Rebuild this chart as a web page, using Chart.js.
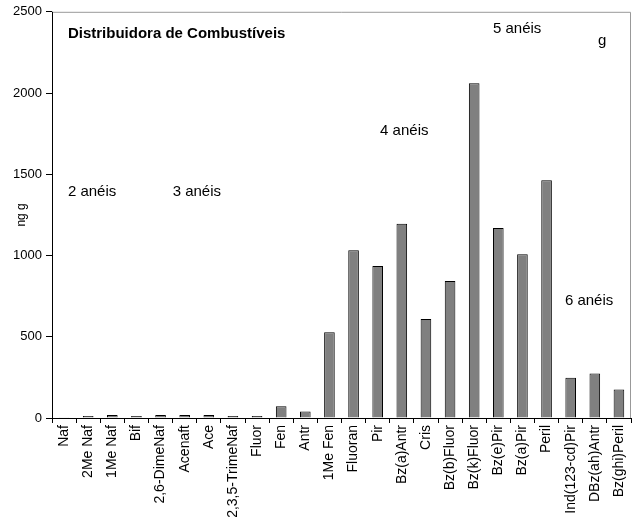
<!DOCTYPE html>
<html>
<head>
<meta charset="utf-8">
<script src="https://cdn.jsdelivr.net/npm/chart.js@4/dist/chart.umd.min.js"></script>
<style>
  html, body { margin: 0; padding: 0; background: #fff; }
  #wrap { width: 639px; height: 524px; }
</style>
</head>
<body>
<div id="wrap"><canvas id="hpa-chart" width="639" height="524"></canvas></div>
<script>
(function () {
    const compounds = [
        "Naf", "2Me Naf", "1Me Naf", "Bif", "2,6-DimeNaf", "Acenaft", "Ace",
        "2,3,5-TrimeNaf", "Fluor", "Fen", "Antr", "1Me Fen", "Fluoran", "Pir",
        "Bz(a)Antr", "Cris", "Bz(b)Fluor", "Bz(k)Fluor", "Bz(e)Pir", "Bz(a)Pir",
        "Peril", "Ind(123-cd)Pir", "DBz(ah)Antr", "Bz(ghi)Peril"
    ];
    const concentrations = [
        5, 12, 18, 12, 18, 18, 18, 12, 12, 72, 40, 527, 1033, 935,
        1195, 610, 843, 2060, 1170, 1008, 1463, 248, 274, 176
    ];
    const yTicks = [0, 500, 1000, 1500, 2000, 2500];

    // text notes placed in data space: [text, category position, value, bold]
    const notes = [
        ["Distribuidora de Combustíveis", 0.16, 2365, true],
        ["2 anéis", 0.16, 1394, false],
        ["3 anéis", 4.5, 1394, false],
        ["4 anéis", 13.1, 1768, false],
        ["5 anéis", 17.78, 2395, false],
        ["g", 22.13, 2322, false],
        ["6 anéis", 20.76, 722, false],
    ];

    const FONT = "'Liberation Sans', Arial, sans-serif";

    const notesPlugin = {
        id: 'notes',
        afterDraw(chart) {
            const c = chart.ctx;
            const x = chart.scales.x, y = chart.scales.y;
            c.save();
            c.fillStyle = '#000';
            c.textBaseline = 'middle';
            c.textAlign = 'left';
            notes.forEach(([text, pos, val, bold]) => {
                c.font = (bold ? 'bold 15px ' : '15px ') + FONT;
                c.fillText(text, x.getPixelForValue(pos), y.getPixelForValue(val));
            });
            c.restore();
        }
    };

    // grey frame on top/right, black axis lines on left/bottom
    const framePlugin = {
        id: 'frame',
        beforeDatasetsDraw(chart) {
            const { left, right, top, bottom } = chart.chartArea;
            const c = chart.ctx;
            c.save();
            c.lineWidth = 1;
            c.strokeStyle = '#999';
            c.beginPath();
            c.moveTo(left, top + 0.5);
            c.lineTo(right - 0.5, top + 0.5);
            c.lineTo(right - 0.5, bottom);
            c.stroke();
            c.strokeStyle = '#000';
            c.beginPath();
            c.moveTo(left + 0.5, top);
            c.lineTo(left + 0.5, bottom + 0.5);
            c.lineTo(right, bottom + 0.5);
            c.stroke();
            c.restore();
        }
    };

    Chart.defaults.font.family = FONT;
    Chart.defaults.color = '#000';

    new Chart(document.getElementById('hpa-chart'), {
        type: 'bar',
        data: {
            labels: compounds,
            datasets: [{
                data: concentrations,
                backgroundColor: '#808080',
                borderColor: '#000',
                borderWidth: 1,
                barPercentage: 0.44,
                categoryPercentage: 1.0,
            }]
        },
        options: {
            responsive: false,
            animation: false,
            layout: { padding: { top: 11, right: 8, left: 0, bottom: 0 } },
            plugins: {
                legend: { display: false },
                tooltip: { enabled: false },
            },
            scales: {
                x: {
                    offset: true,
                    grid: {
                        offset: true,
                        drawOnChartArea: false,
                        drawTicks: true,
                        tickLength: 5,
                        color: '#000',
                    },
                    border: { display: false },
                    ticks: {
                        autoSkip: false,
                        maxRotation: 90,
                        minRotation: 90,
                        padding: 2,
                        font: { size: 14 },
                    },
                    afterFit(scale) { scale.height = 106; },
                },
                y: {
                    min: 0,
                    max: 2500,
                    afterBuildTicks(scale) {
                        scale.ticks = yTicks.map(v => ({ value: v }));
                    },
                    grid: {
                        drawOnChartArea: false,
                        tickLength: 6,
                        color: '#000',
                    },
                    border: { display: false },
                    ticks: {
                        padding: 4,
                        font: { size: 13 },
                        callback: v => String(v),
                    },
                    title: {
                        display: true,
                        text: 'ng g',
                        font: { size: 12 },
                        padding: { top: 14, bottom: 0 },
                    },
                    afterFit(scale) { scale.width = 52; },
                },
            },
        },
        plugins: [framePlugin, notesPlugin],
    });
})();
</script>
</body>
</html>
